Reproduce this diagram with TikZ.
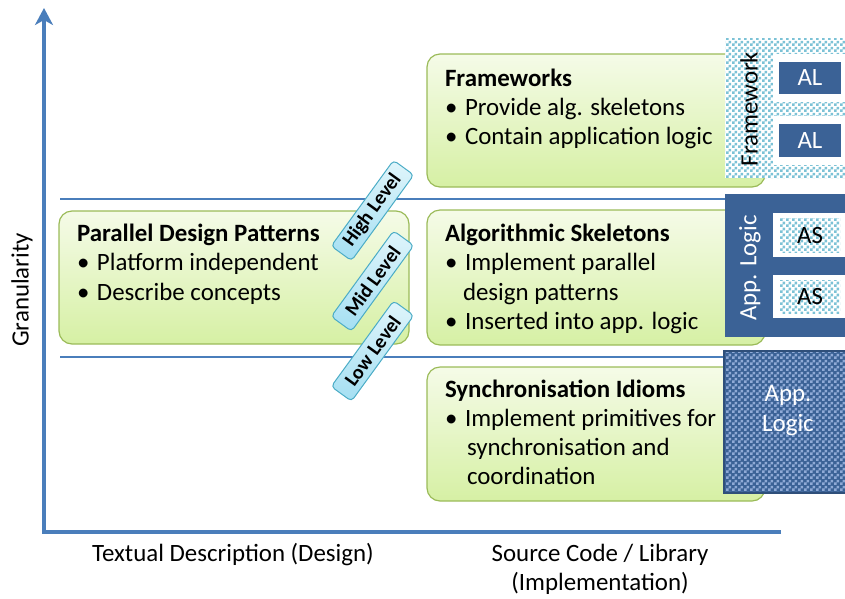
\documentclass[tikz,border=0pt]{standalone}
\usepackage{fontspec}
\setmainfont{Carlito}
\usetikzlibrary{arrows.meta,patterns,patterns.meta}
\definecolor{axisblue}{HTML}{4A7EBB}
\definecolor{greenborder}{HTML}{9BBB59}
\definecolor{greentop}{HTML}{F5FBE8}
\definecolor{greenbot}{HTML}{D6F0A4}
\definecolor{darkblue}{HTML}{3B6296}
\definecolor{darkline}{HTML}{2F4F7A}
\definecolor{checklight}{HTML}{8FAAD6}
\definecolor{cyanchk}{HTML}{7CC2D6}
\definecolor{cyanborder}{HTML}{4BACC6}
\definecolor{cyantop}{HTML}{E0F5FB}
\definecolor{cyanbot}{HTML}{A4DFF2}
\tikzdeclarepattern{
  name=chk,
  type=uncolored,
  bounding box={(0pt,0pt) and (6pt,6pt)},
  tile size={(6pt,6pt)},
  code={
    \pgfpathrectangle{\pgfpointorigin}{\pgfqpoint{3pt}{3pt}}
    \pgfpathrectangle{\pgfqpoint{3pt}{3pt}}{\pgfqpoint{3pt}{3pt}}
    \pgfusepath{fill}
  }
}
\newcommand\mybul{\makebox[20pt][l]{\textbullet}}
\begin{document}
\begin{tikzpicture}[x=1pt,y=-1pt,
  every node/.style={inner sep=0pt, outer sep=0pt},
  big/.style={font=\fontsize{24.9}{29.3}\selectfont},
  greenbox/.style={draw=greenborder, line width=1.2pt, rounded corners=13pt,
    top color=greentop, bottom color=greenbot, anchor=north west},
  txt/.style={big, anchor=base west},
  axisline/.style={draw=axisblue, line width=4pt, line join=miter},
  sepline/.style={draw=axisblue, line width=2pt},
  lvl/.style={draw=cyanborder, line width=1pt, rounded corners=4pt,
    top color=cyantop, bottom color=cyanbot, minimum width=106pt,
    minimum height=25pt, rotate=54, font=\bfseries\fontsize{20}{22}\selectfont},
  rbox/.style={anchor=north west},
  cyanchkbox/.style={rbox, preaction={fill=white}, pattern=chk, pattern color=cyanchk},
  whitepanel/.style={rbox, fill=white},
  darkbox/.style={rbox, fill=darkblue},
  rtext/.style={big},
]
\useasboundingbox (0,0) rectangle (845,598);

% separator lines
\coordinate (s1a) at (60,198.5);
\coordinate (s1b) at (730,198.5);
\coordinate (s2a) at (60,357);
\coordinate (s2b) at (725,357);
\draw[sepline] (s1a) -- (s1b);
\draw[sepline] (s2a) -- (s2b);

% axes
\coordinate (origin) at (44,532);
\coordinate (ytip) at (44,8);
\coordinate (xend) at (781,532);
\draw[axisline, -{Stealth[length=17pt,width=18pt,inset=5pt]}] (xend) -- (origin) -- (ytip);

% green boxes
\node[greenbox, minimum width=338pt, minimum height=133pt] (fwk) at (427,54) {};
\node[greenbox, minimum width=338pt, minimum height=135pt] (alg) at (427,210) {};
\node[greenbox, minimum width=338pt, minimum height=134pt] (syn) at (427,367) {};
\node[greenbox, minimum width=350pt, minimum height=133pt] (pdp) at (59,211) {};

% texts
\node[txt] (fwkt) at (445,86) {\begin{tabular}[t]{@{}l@{}}
\textbf{Frameworks}\\
\mybul Provide alg. skeletons\\
\mybul Contain application logic
\end{tabular}};
\node[txt] (algt) at (445,241.5) {\begin{tabular}[t]{@{}l@{}}
\textbf{Algorithmic Skeletons}\\
\mybul Implement parallel\\
\hspace*{18pt}design patterns\\
\mybul Inserted into app. logic
\end{tabular}};
\node[txt] (synt) at (445,397) {\begin{tabular}[t]{@{}l@{}}
\textbf{Synchronisation Idioms}\\
\mybul Implement primitives for\\
\hspace*{22pt}synchronisation and\\
\hspace*{22pt}coordination
\end{tabular}};
\node[txt] (pdpt) at (77,241.5) {\begin{tabular}[t]{@{}l@{}}
\textbf{Parallel Design Patterns}\\
\mybul Platform independent\\
\mybul Describe concepts
\end{tabular}};

% Framework block
\node[cyanchkbox, minimum width=125pt, minimum height=140pt] (fwbg) at (725,38) {};
\node[whitepanel, minimum width=80pt, minimum height=48pt] (fwp1) at (773,54) {};
\node[whitepanel, minimum width=80pt, minimum height=49pt] (fwp2) at (773,116) {};
\node[darkbox, minimum width=62pt, minimum height=32pt] (al1) at (779,62) {};
\node[darkbox, minimum width=62pt, minimum height=33pt] (al2) at (779,124) {};
\node[rtext, text=white] (al1t) at (al1.center) {AL};
\node[rtext, text=white] (al2t) at (al2.center) {AL};
\node[rtext, rotate=90] (fwlab) at (749,109) {Framework};

% App. Logic block
\node[darkbox, minimum width=125pt, minimum height=143pt] (appbox) at (725,194) {};
\node[whitepanel, minimum width=80pt, minimum height=44pt] (asp1) at (773,213) {};
\node[whitepanel, minimum width=80pt, minimum height=43pt] (asp2) at (773,275) {};
\node[cyanchkbox, minimum width=60pt, minimum height=34pt] (as1) at (780,218) {};
\node[cyanchkbox, minimum width=60pt, minimum height=33pt] (as2) at (780,280) {};
\node[rtext] (as1t) at (as1.center) {AS};
\node[rtext] (as2t) at (as2.center) {AS};
\node[rtext, rotate=90, text=white] (applab) at (750,268) {App. Logic};

% bottom App. Logic block
\node[rbox, draw=darkline, line width=1.5pt, preaction={fill=darkblue}, pattern=chk,
  pattern color=checklight, minimum width=126pt, minimum height=142pt] (botbox) at (724,351) {};
\node[rtext, text=white, align=center, font=\fontsize{24.9}{30}\selectfont] (bott) at (788,411) {App.\\Logic};

% level labels
\node[lvl] (high) at (372.5,210.5) {High Level};
\node[lvl] (mid) at (372.5,281) {Mid Level};
\node[lvl] (low) at (372.5,351) {Low Level};

% axis labels
\node[big, rotate=90] (gran) at (22,290) {Granularity};
\node[big, anchor=base] (xl1) at (233,561) {Textual Description (Design)};
\node[big, anchor=base] (xl2) at (600,561) {Source Code / Library};
\node[big, anchor=base] (xl3) at (600,590) {(Implementation)};
\end{tikzpicture}
\end{document}
